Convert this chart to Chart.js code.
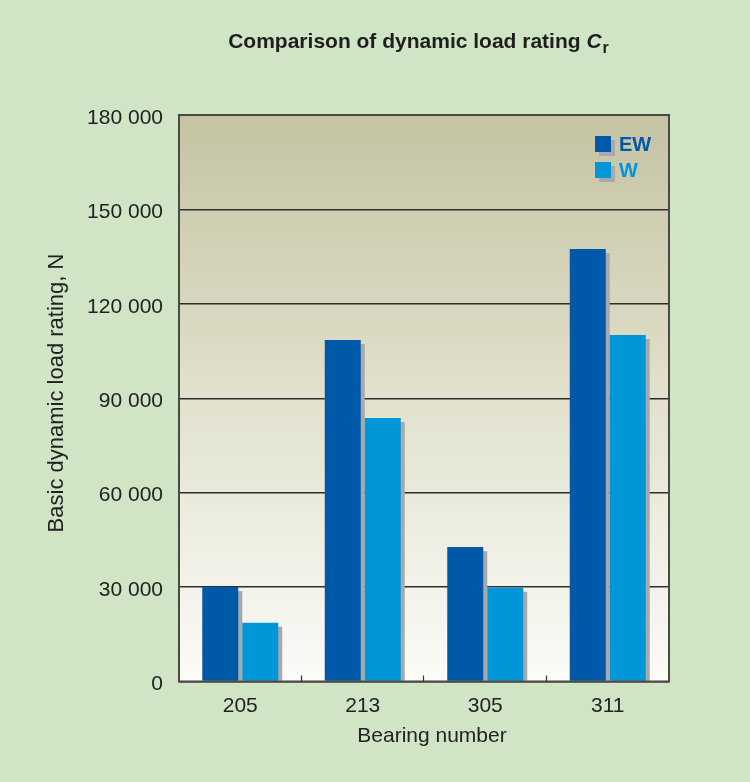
<!DOCTYPE html>
<html>
<head>
<meta charset="utf-8">
<script src="https://cdn.jsdelivr.net/npm/chart.js@4.4.1/dist/chart.umd.min.js"></script>
<style>
  html, body { margin: 0; padding: 0; background: #cfe5c6; }
  #wrap { width: 750px; height: 782px; }
</style>
</head>
<body>
<div id="wrap"><canvas id="chart" width="750" height="782"></canvas></div>
<script>
const categories = ['205', '213', '305', '311'];
const ewValues = [30000, 108500, 42700, 137400];
const wValues = [18700, 83700, 29800, 110100];
const yMax = 180000;
const yStep = 30000;
const xTitle = 'Bearing number';
const yTitle = 'Basic dynamic load rating, N';

const FONT = '"Liberation Sans", Arial, Helvetica, sans-serif';
const EW_COLOR = '#0058a9';
const W_COLOR = '#0096d8';
const SHADOW = '#a9a9ad';

// thousands with a space: 180 000
const fmt = (v) => String(v).replace(/\B(?=(\d{3})+(?!\d))/g, ' ');

const backdrop = {
  id: 'backdrop',
  beforeDraw(chart) {
    const {ctx, chartArea: a} = chart;
    ctx.save();
    ctx.fillStyle = '#cfe5c6';
    ctx.fillRect(0, 0, chart.width, chart.height);
    const g = ctx.createLinearGradient(0, a.top, 0, a.bottom);
    g.addColorStop(0, '#c4c3a3');
    g.addColorStop(0.5, '#e1e1cd');
    g.addColorStop(1, '#fbfbf8');
    ctx.fillStyle = g;
    ctx.fillRect(a.left, a.top, a.right - a.left, a.bottom - a.top);
    ctx.restore();
  }
};

// grey drop shadow behind each bar
const barShadow = {
  id: 'barShadow',
  beforeDatasetsDraw(chart) {
    const {ctx} = chart;
    ctx.save();
    ctx.fillStyle = SHADOW;
    chart.data.datasets.forEach((ds, i) => {
      chart.getDatasetMeta(i).data.forEach((bar) => {
        const w = bar.width;
        ctx.fillRect(bar.x - w / 2 + 4, bar.y + 4, w, bar.base - bar.y - 4);
      });
    });
    ctx.restore();
  }
};

const extras = {
  id: 'extras',
  afterDraw(chart) {
    const {ctx, chartArea: a, scales: {x}} = chart;
    ctx.save();
    // frame
    ctx.strokeStyle = '#4a4a42';
    ctx.lineWidth = 2;
    ctx.strokeRect(a.left, a.top, a.right - a.left, a.bottom - a.top);
    // small ticks between categories
    ctx.lineWidth = 1.2;
    ctx.strokeStyle = '#333';
    for (let i = 0; i < categories.length - 1; i++) {
      const px = Math.round((x.getPixelForValue(i) + x.getPixelForValue(i + 1)) / 2) - 0.5;
      ctx.beginPath();
      ctx.moveTo(px, a.bottom);
      ctx.lineTo(px, a.bottom - 6);
      ctx.stroke();
    }
    // axis titles
    ctx.fillStyle = '#222';
    ctx.textAlign = 'center';
    ctx.textBaseline = 'middle';
    ctx.font = '21px ' + FONT;
    ctx.fillText(xTitle, 432, 736);
    ctx.save();
    ctx.translate(57, 393);
    ctx.rotate(-Math.PI / 2);
    ctx.font = '22px ' + FONT;
    ctx.fillText(yTitle, 0, 0);
    ctx.restore();
    // title with italic C and subscript r
    ctx.textAlign = 'left';
    const t1 = 'Comparison of dynamic load rating ';
    ctx.fillStyle = '#1e1e1e';
    ctx.textBaseline = 'alphabetic';
    ctx.font = 'bold 21px ' + FONT;
    const w1 = ctx.measureText(t1).width;
    ctx.font = 'italic bold 21px ' + FONT;
    const w2 = ctx.measureText('C').width;
    ctx.font = 'bold 16px ' + FONT;
    const w3 = ctx.measureText('r').width;
    let tx = 418.5 - (w1 + w2 + w3 + 1) / 2;
    const ty = 48;
    ctx.font = 'bold 21px ' + FONT;
    ctx.fillText(t1, tx, ty);
    tx += w1;
    ctx.font = 'italic bold 21px ' + FONT;
    ctx.fillText('C', tx, ty);
    tx += w2 + 1;
    ctx.font = 'bold 16px ' + FONT;
    ctx.fillText('r', tx, ty + 5);
    // legend
    chart.data.datasets.forEach((ds, i) => {
      const lx = 595, ly = 136 + i * 26;
      ctx.fillStyle = SHADOW;
      ctx.fillRect(lx + 4, ly + 4, 16, 16);
      ctx.fillStyle = ds.backgroundColor;
      ctx.fillRect(lx, ly, 16, 16);
      ctx.font = 'bold 20px ' + FONT;
      ctx.textBaseline = 'middle';
      ctx.fillText(ds.label, lx + 24, ly + 9);
    });
    ctx.restore();
  }
};

new Chart(document.getElementById('chart'), {
  type: 'bar',
  data: {
    labels: categories,
    datasets: [
      {label: 'EW', data: ewValues, backgroundColor: EW_COLOR},
      {label: 'W', data: wValues, backgroundColor: W_COLOR}
    ]
  },
  options: {
    responsive: false,
    animation: false,
    categoryPercentage: 0.653,
    barPercentage: 0.9,
    layout: {padding: {top: 115, right: 81, left: 0, bottom: 0}},
    plugins: {
      legend: {display: false},
      tooltip: {enabled: false}
    },
    scales: {
      x: {
        grid: {display: false},
        border: {display: false},
        ticks: {color: '#222', font: {family: FONT, size: 21}, padding: 4},
        afterFit(s) { s.height = 100.5; }
      },
      y: {
        min: 0,
        max: yMax,
        ticks: {stepSize: yStep, color: '#222', font: {family: FONT, size: 21}, padding: 16,
          labelOffset: 3, callback: (v) => fmt(v)},
        grid: {color: '#2e2e2e', lineWidth: 1.5, drawTicks: false},
        border: {display: false},
        afterFit(s) { s.width = 179; }
      }
    }
  },
  plugins: [backdrop, barShadow, extras]
});
</script>
</body>
</html>
